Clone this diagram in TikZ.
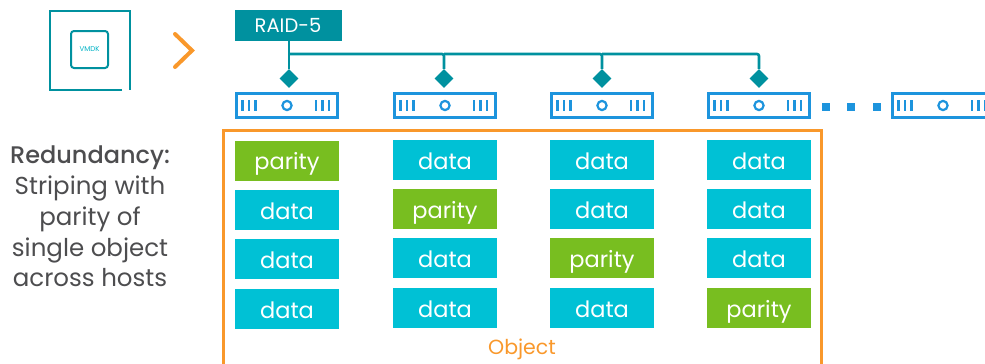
\documentclass[tikz,border=0pt]{standalone}
\usepackage{fontspec}
\setmainfont{Poppins}
\newfontfamily\sidebold{Poppins Medium}
\definecolor{teal1}{HTML}{00919F}
\definecolor{cyan1}{HTML}{00C1D5}
\definecolor{green1}{HTML}{78BE20}
\definecolor{blue1}{HTML}{1D94DD}
\definecolor{orange1}{HTML}{F9982B}
\definecolor{grey1}{HTML}{4D4D4F}
\usetikzlibrary{shapes.geometric}
\tikzset{
 cell/.style={rectangle,minimum width=104pt,minimum height=40pt,inner sep=0pt,text=white,text height=18pt,text depth=0pt,font=\fontsize{22.5}{23}\selectfont},
 datacell/.style={cell,fill=cyan1},
 paritycell/.style={cell,fill=green1},
 srv/.style={rectangle,draw=blue1,line width=2.8pt,minimum width=101pt,minimum height=24pt,inner sep=0pt},
 dia/.style={diamond,fill=teal1,minimum width=19pt,minimum height=19pt,inner sep=0pt},
 wire/.style={draw=teal1,line width=2.6pt},
 side/.style={text=grey1,font=\fontsize{24.5}{25}\selectfont,inner sep=0pt,text height=16pt,text depth=0pt},
 dot/.style={rectangle,fill=blue1,minimum width=8pt,minimum height=8pt,inner sep=0pt}
}
\newcommand{\srvmarks}[1]{%
 \foreach \dx in {-44.5,-38,-31.5,29,35.5,42}{\draw[blue1,line width=2.4pt] ([xshift=\dx pt,yshift=5.5pt]#1.center) -- ([xshift=\dx pt,yshift=-5.5pt]#1.center);}
 \draw[blue1,line width=2.2pt] (#1.center) circle[radius=4.6pt];}
\begin{document}
\begin{tikzpicture}[x=1pt,y=-1pt]
\useasboundingbox (0,0) rectangle (985,364);
% VMDK icon
\draw[teal1,line width=2pt] (122,89.5) -- (49.5,89.5) -- (49.5,10.5) -- (129.5,10.5) -- (129.5,89.5);
\node[draw=teal1,line width=2pt,rounded corners=3pt,minimum width=37pt,minimum height=37pt,inner sep=0pt,text=cyan1!70!teal1,font=\fontsize{7}{7}\selectfont] (vmdk) at (89.5,49.5) {VMDK};
\coordinate (cha) at (175,34); \coordinate (chb) at (192,50.5); \coordinate (chc) at (175,67);
\draw[orange1,line width=4pt,line cap=round,line join=miter] (cha) -- (chb) -- (chc);
% RAID
\node[rectangle,fill=teal1,minimum width=107pt,minimum height=31pt,inner sep=0pt,text=white,text height=14pt,text depth=0pt,font=\fontsize{19.5}{20}\selectfont] (raid) at (288,25) {RAID-5};
\foreach \n/\x in {a/289,b/444,c/602,d/759}{
 \node[dia] (d\n) at (\x,78.5) {};
 \coordinate (t\n) at (\x,54);
}
\draw[wire] (raid.south -| da) -- (da);
\draw[wire,rounded corners=2pt] (ta) -- (tb) -- (db);
\draw[wire,rounded corners=2pt] (tb) -- (tc) -- (dc);
\draw[wire,rounded corners=2pt] (tc) -- (td) -- (dd);
% Servers
\foreach \n/\x in {a/287,b/445,c/602,d/759,e/943}{
 \node[srv] (s\n) at (\x,105.5) {};
 \srvmarks{s\n}
}
\foreach \n/\x in {1/826,2/851,3/877}{\node[dot] (dot\n) at (\x,106.7) {};}
% Object frame
\draw[orange1,line width=2.6pt] (223.5,364) -- (223.5,130.5) -- (821.5,130.5) -- (821.5,364);
% Cells
\foreach \n/\x/\y/\k/\t in {
 a1/287/160.5/paritycell/parity,a2/287/210/datacell/data,a3/287/259/datacell/data,a4/287/309/datacell/data,
 b1/445/160/datacell/data,b2/445/209/paritycell/parity,b3/445/258/datacell/data,b4/445/308/datacell/data,
 c1/602/160/datacell/data,c2/602/209/datacell/data,c3/602/258/paritycell/parity,c4/602/308/datacell/data,
 d1/759/160/datacell/data,d2/759/209/datacell/data,d3/759/258/datacell/data,d4/759/308/paritycell/parity}{
 \node[\k] (cell\n) at (\x,\y) {\t};
}
\node[text=orange1,font=\fontsize{20.5}{21}\selectfont,inner sep=0pt,text height=16pt,text depth=0pt] (obj) at (522,346) {Object};
% Side text
\node[side,font=\fontsize{24}{24}\sidebold\selectfont] (l1) at (90,155) {Redundancy:};
\node[side] (l2) at (90,186) {Striping with};
\node[side] (l3) at (90,217) {parity of};
\node[side] (l4) at (90,248) {single object};
\node[side] (l5) at (90,278) {across hosts};
\end{tikzpicture}
\end{document}
